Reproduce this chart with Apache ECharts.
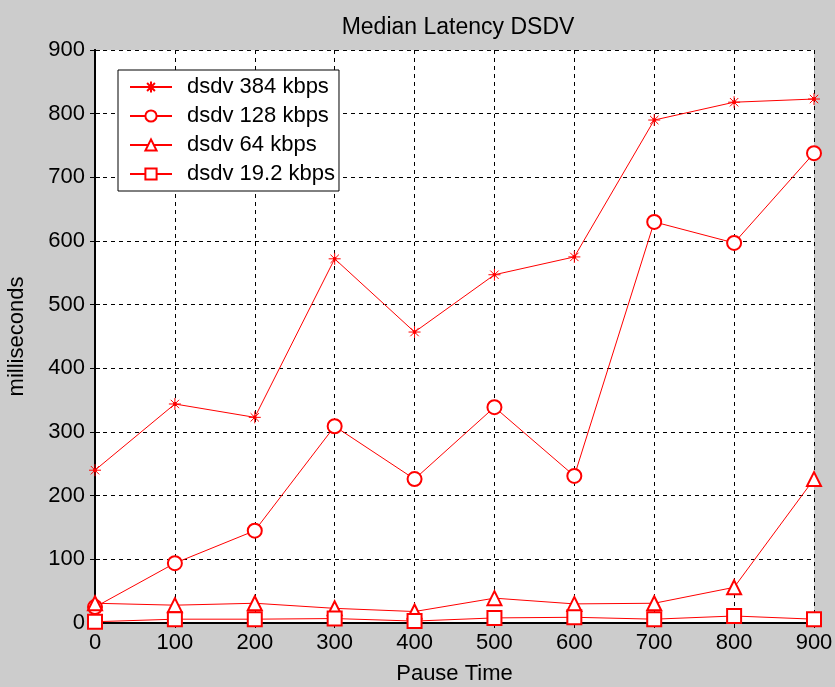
<!DOCTYPE html>
<html><head><meta charset="utf-8">
<script src="https://cdn.jsdelivr.net/npm/echarts@6/dist/echarts.min.js"></script>
<style>html,body{margin:0;padding:0;background:#cccccc}#c{width:835px;height:687px}</style>
</head><body><div id="c"></div>
<script>
const pauseTimes = [0,100,200,300,400,500,600,700,800,900];
const dsdv384 = [240,344,323,572,457,547,575,790,818,823];
const dsdv128 = [25,94,145,309,226,339,231,630,597,738];
const dsdv64 = [31,28,31,23,18,39,30,31,56,226];
const dsdv19 = [2,6,6,7,3,8,9,6,11,6];
const seriesNames = ['dsdv 384 kbps','dsdv 128 kbps','dsdv 64 kbps','dsdv 19.2 kbps'];
const yTicks = [0,100,200,300,400,500,600,700,800,900];

const red = '#ff0000';
const star = 'path://M0,-10L0,10M-10,0L10,0M-7,-7L7,7M-7,7L7,-7M-2,-2L2,-2L2,2L-2,2Z';
const font = 'Liberation Sans, Arial, sans-serif';
function mk(name, data, symbol, size){
  return {name, type:'line', data: pauseTimes.map((x,i)=>[x,data[i]]), symbol, symbolSize:size,
    showAllSymbol:true, clip:false,
    lineStyle:{color:red,width:1}, itemStyle:{color:red,borderColor:red,borderWidth:1},
    emphasis:{disabled:true}, animation:false};
}
const chart = echarts.init(document.getElementById('c'));
const axisCommon = {min:0,max:900,interval:100,
  axisLine:{show:true,lineStyle:{color:'#000',width:2}},
  axisTick:{show:true,inside:true,length:5,lineStyle:{color:'#000'}}};
chart.setOption({
  backgroundColor:'#cccccc',
  animation:false,
  title:{text:'Median Latency DSDV',left:453,textAlign:'center',top:11,
    textStyle:{fontFamily:font,fontSize:23,fontWeight:'normal',color:'#000'}},
  grid:{left:95,right:21,top:50,bottom:64,show:true,backgroundColor:'#ffffff',borderWidth:0,
    containLabel:false,outerBoundsMode:'none'},
  legend:{left:118,top:70,orient:'vertical',backgroundColor:'#fff',borderColor:'#000',borderWidth:1,
    borderRadius:0,padding:[6,4,6,11],itemWidth:42,itemHeight:14,itemGap:7,
    textStyle:{fontFamily:font,fontSize:22,lineHeight:22,color:'#000',padding:[0,0,0,10]},data:seriesNames},
  xAxis:[
    Object.assign({type:'value',position:'bottom',name:'Pause Time',nameLocation:'middle',nameGap:40,
      nameTextStyle:{fontFamily:font,fontSize:22,color:'#000'},
      axisLabel:{fontFamily:font,fontSize:22,color:'#000',margin:9},
      splitLine:{show:true,lineStyle:{color:'#000',type:[4,4],width:1}}},axisCommon),
    Object.assign({type:'value',position:'top',axisLabel:{show:false},splitLine:{show:false}},axisCommon)
  ],
  yAxis:[
    Object.assign({type:'value',position:'left',name:'milliseconds',nameLocation:'middle',nameGap:67,
      nameTextStyle:{fontFamily:font,fontSize:22,color:'#000'},
      axisLabel:{fontFamily:font,fontSize:22,color:'#000',margin:10,formatter:v=>yTicks.includes(v)?String(v):''},
      splitLine:{show:true,lineStyle:{color:'#000',type:[4,4],width:1}}},axisCommon),
    Object.assign({type:'value',position:'right',axisLabel:{show:false},splitLine:{show:false}},axisCommon)
  ],
  series:[
    mk(seriesNames[0],dsdv384,star,12),
    mk(seriesNames[1],dsdv128,'emptyCircle',14),
    mk(seriesNames[2],dsdv64,'emptyTriangle',14),
    mk(seriesNames[3],dsdv19,'emptyRect',14)
  ]
});
</script></body></html>
